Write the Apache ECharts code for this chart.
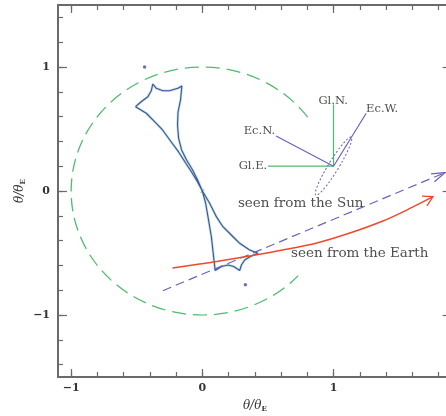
<!DOCTYPE html>
<html>
<head>
<meta charset="utf-8">
<script src="https://cdn.jsdelivr.net/npm/echarts@6/dist/echarts.min.js"></script>
<style>
  html, body { margin: 0; padding: 0; background: #fff; overflow: hidden; }
  /* the plot frame runs slightly past the right edge of the window */
  #chart { width: 456px; height: 416px; }
</style>
</head>
<body>
<div id="chart"></div>
<script>
// Axis extents and ticks (units of theta / theta_E)
const X_RANGE = [-1.1, 1.9];
const Y_RANGE = [-1.5, 1.5];
const X_MAJOR = [-1, 0, 1];
const Y_MAJOR = [-1, 0, 1];
const X_MINOR = [-1, -0.8, -0.6, -0.4, -0.2, 0, 0.2, 0.4, 0.6, 0.8, 1, 1.2, 1.4, 1.6, 1.8];
const Y_MINOR = [-1.4, -1.2, -1, -0.8, -0.6, -0.4, -0.2, 0, 0.2, 0.4, 0.6, 0.8, 1, 1.2, 1.4];

// Einstein ring: [cx, cy, radius, startAngleDeg, endAngleDeg] (drawn counter-clockwise)
const EINSTEIN_RING = [[0, 0, 1, 36.5, 317]];

// Caustic curve (closed loop through the six cusps)
const CAUSTIC = [
  [-0.509, 0.680], [-0.466, 0.720], [-0.415, 0.760], [-0.389, 0.809], [-0.377, 0.863],
  [-0.351, 0.828], [-0.301, 0.809], [-0.250, 0.809], [-0.186, 0.828], [-0.156, 0.847],
  [-0.166, 0.734], [-0.185, 0.637], [-0.189, 0.532], [-0.181, 0.427], [-0.158, 0.331],
  [-0.120, 0.250], [-0.074, 0.169], [-0.036, 0.089], [0, 0],
  [0.025, -0.097], [0.043, -0.207], [0.069, -0.369], [0.086, -0.530], [0.098, -0.641],
  [0.147, -0.609], [0.195, -0.597], [0.239, -0.609], [0.285, -0.641],
  [0.298, -0.597], [0.323, -0.556], [0.374, -0.524], [0.424, -0.502],
  [0.361, -0.476], [0.285, -0.422], [0.234, -0.369], [0.157, -0.288], [0.107, -0.207],
  [0.056, -0.099], [0, 0],
  [-0.036, 0.073], [-0.082, 0.153], [-0.127, 0.226], [-0.181, 0.315], [-0.242, 0.403],
  [-0.303, 0.492], [-0.351, 0.546], [-0.427, 0.627], [-0.509, 0.680]
];
// Isolated planetary caustic specks
const CAUSTIC_SPECKS = [[-0.44, 1.0], [0.328, -0.756]];
// Lens position
const LENS = [[0, 0]];

// Source trajectories
const TRACK_SUN = [[-0.301, -0.804], [1.850, 0.148]];
const TRACK_EARTH = [
  [-0.227, -0.621], [-0.021, -0.589], [0.109, -0.569], [0.361, -0.524], [0.613, -0.476],
  [0.873, -0.419], [1.124, -0.339], [1.376, -0.242], [1.582, -0.141], [1.758, -0.046]
];

// Orientation compass and parallax ellipse
const COMPASS_ORIGIN = [1.0, 0.2];
const GAL_NORTH = [1.0, 0.7];
const GAL_EAST = [0.5, 0.2];
const ECL_NORTH = [0.562, 0.444];
const ECL_WEST = [1.249, 0.627];
// [cx, cy, semiMajor, semiMinor, angleDeg]
const PARALLAX_ELLIPSE = [[1.0, 0.2, 0.27, 0.04, 60]];

// Text annotations: [x, y, text]
const COMPASS_LABELS = [
  [0.997, 0.726, 'Gl.N.'],
  [1.37, 0.661, 'Ec.W.'],
  [0.435, 0.484, 'Ec.N.'],
  [0.386, 0.2, 'Gl.E.']
];
const TRACK_LABELS = [
  [0.75, -0.097, 'seen from the Sun'],
  [1.2, -0.5, 'seen from the Earth']
];

const FRAME = '#6a6a6a';
const GREEN = '#4fbb6f';
const PURPLE = '#6c60c4';
const BLUE = '#41519f';
const RED = '#f2472b';
const SERIF = '"DejaVu Serif", "Liberation Serif", serif';

const minus = v => (v < 0 ? '\u2212' + Math.abs(v) : String(v));

const axisNameRich = {
  t: { fontFamily: SERIF, fontStyle: 'italic', fontSize: 12, color: '#333', lineHeight: 14 },
  s: { fontFamily: SERIF, fontSize: 7, fontWeight: 'bold', color: '#333', verticalAlign: 'bottom', padding: [5, 0, 0, 0] }
};

function xAxisPair(position, withLabels) {
  return [
    {
      type: 'value', position, min: X_RANGE[0], max: X_RANGE[1],
      axisLine: { show: true, onZero: false, lineStyle: { color: FRAME, width: 2 } },
      axisTick: { show: true, inside: true, length: 8, customValues: X_MAJOR, lineStyle: { color: FRAME, width: 1.2 } },
      axisLabel: withLabels ? {
        show: true, customValues: X_MAJOR, formatter: minus, margin: 6,
        fontFamily: SERIF, fontSize: 11, fontWeight: 'bold', color: '#333'
      } : { show: false },
      splitLine: { show: false },
      name: withLabels ? '{t|\u03b8/\u03b8}{s|E}' : '',
      nameLocation: 'middle', nameGap: 22, nameMoveOverlap: false,
      nameTextStyle: { rich: axisNameRich }
    },
    {
      type: 'value', position, min: X_RANGE[0], max: X_RANGE[1],
      axisLine: { show: false, onZero: false },
      axisTick: { show: true, inside: true, length: 5, customValues: X_MINOR, lineStyle: { color: FRAME, width: 1.2 } },
      axisLabel: { show: false }, splitLine: { show: false }
    }
  ];
}

function yAxisPair(position, withLabels) {
  return [
    {
      type: 'value', position, min: Y_RANGE[0], max: Y_RANGE[1],
      axisLine: { show: true, onZero: false, lineStyle: { color: FRAME, width: 2 } },
      axisTick: { show: true, inside: true, length: 9, customValues: Y_MAJOR, lineStyle: { color: FRAME, width: 1.2 } },
      axisLabel: withLabels ? {
        show: true, customValues: Y_MAJOR, formatter: minus, margin: 8,
        fontFamily: SERIF, fontSize: 11, fontWeight: 'bold', color: '#333'
      } : { show: false },
      splitLine: { show: false },
      name: withLabels ? '{t|\u03b8/\u03b8}{s|E}' : '',
      nameLocation: 'middle', nameGap: 31, nameRotate: 90, nameMoveOverlap: false,
      nameTextStyle: { rich: axisNameRich }
    },
    {
      type: 'value', position, min: Y_RANGE[0], max: Y_RANGE[1],
      axisLine: { show: false, onZero: false },
      axisTick: { show: true, inside: true, length: 5, customValues: Y_MINOR, lineStyle: { color: FRAME, width: 1.2 } },
      axisLabel: { show: false }, splitLine: { show: false }
    }
  ];
}

const segment = (a, b, color, width) => ({
  type: 'line', data: [a, b], symbol: 'none', silent: true,
  lineStyle: { color, width }, z: 3
});

const textSeries = (data, size) => ({
  type: 'scatter', data, symbolSize: 0, silent: true, z: 8,
  label: {
    show: true, position: 'inside',
    formatter: p => p.value[2],
    fontFamily: SERIF, fontSize: size, color: '#222'
  }
});

const chart = echarts.init(document.getElementById('chart'), null, { renderer: 'canvas' });

chart.setOption({
  animation: false,
  backgroundColor: '#ffffff',
  grid: { left: 58, top: 5, right: 4.4, bottom: 39, containLabel: false, outerBoundsMode: 'none' },
  xAxis: [...xAxisPair('bottom', true), ...xAxisPair('top', false)],
  yAxis: [...yAxisPair('left', true), ...yAxisPair('right', false)],
  series: [
    {
      // Einstein ring (dashed arc)
      type: 'custom', silent: true, z: 2,
      renderItem(params, api) {
        const c = api.coord([api.value(0), api.value(1)]);
        const s = api.size([api.value(2), api.value(2)]);
        return {
          type: 'arc',
          x: c[0], y: c[1], scaleY: s[1] / s[0],
          shape: {
            cx: 0, cy: 0, r: s[0],
            startAngle: -api.value(3) * Math.PI / 180,
            endAngle: -api.value(4) * Math.PI / 180,
            clockwise: false
          },
          style: { stroke: GREEN, fill: null, lineWidth: 1.3, lineDash: [14, 7] }
        };
      },
      data: EINSTEIN_RING
    },
    {
      // soft halo under the caustic
      type: 'line', data: CAUSTIC, symbol: 'none', silent: true, z: 3,
      lineStyle: { color: 'rgba(110,190,165,0.45)', width: 2.6 }
    },
    {
      type: 'line', data: CAUSTIC, symbol: 'none', silent: true, z: 4,
      lineStyle: { color: BLUE, width: 1.1 }
    },
    {
      type: 'scatter', data: CAUSTIC_SPECKS, symbol: 'circle', symbolSize: 3.5, silent: true, z: 4,
      itemStyle: { color: BLUE }
    },
    {
      type: 'scatter', data: LENS, silent: true, z: 5,
      symbol: 'path://M0,0 L10,10 M10,0 L0,10 L1,11 L11,1 L10,0 L0,10 Z', symbolSize: 4,
      itemStyle: { color: '#333' }
    },
    {
      type: 'line', data: TRACK_SUN, symbol: 'none', silent: true, z: 5,
      lineStyle: { color: PURPLE, width: 1.2, type: [9, 5] }
    },
    {
      type: 'line', data: TRACK_EARTH, symbol: 'none', smooth: 0.3, silent: true, z: 6,
      lineStyle: { color: RED, width: 1.4 }
    },
    segment(COMPASS_ORIGIN, GAL_NORTH, GREEN, 1.2),
    segment(COMPASS_ORIGIN, GAL_EAST, GREEN, 1.2),
    segment(COMPASS_ORIGIN, ECL_NORTH, PURPLE, 1.2),
    segment(COMPASS_ORIGIN, ECL_WEST, PURPLE, 1.2),
    {
      // parallax ellipse (dotted)
      type: 'custom', silent: true, z: 4,
      renderItem(params, api) {
        const cx = api.value(0), cy = api.value(1);
        const a = api.value(2), b = api.value(3), th = api.value(4) * Math.PI / 180;
        const c = api.coord([cx, cy]);
        const pa = api.coord([cx + a * Math.cos(th), cy + a * Math.sin(th)]);
        const pb = api.coord([cx - b * Math.sin(th), cy + b * Math.cos(th)]);
        const rx = Math.hypot(pa[0] - c[0], pa[1] - c[1]);
        const ry = Math.hypot(pb[0] - c[0], pb[1] - c[1]);
        const rot = Math.atan2(-(pa[1] - c[1]), pa[0] - c[0]);
        return {
          type: 'ellipse',
          x: c[0], y: c[1], rotation: rot,
          shape: { cx: 0, cy: 0, rx, ry },
          style: { stroke: PURPLE, fill: null, lineWidth: 1, lineDash: [2, 2] }
        };
      },
      data: PARALLAX_ELLIPSE
    },
    textSeries(COMPASS_LABELS, 11.5),
    textSeries(TRACK_LABELS, 13.5)
  ]
});

// Arrowheads at the ends of the two trajectories
function arrowHead(track, len, half, color) {
  const n = track.length;
  const tip = chart.convertToPixel({ xAxisIndex: 0, yAxisIndex: 0 }, track[n - 1]);
  const prev = chart.convertToPixel({ xAxisIndex: 0, yAxisIndex: 0 }, track[n - 2]);
  const ang = Math.atan2(prev[1] - tip[1], prev[0] - tip[0]);
  const h = half * Math.PI / 180;
  return {
    type: 'polyline', silent: true, z: 10,
    shape: {
      points: [
        [tip[0] + len * Math.cos(ang + h), tip[1] + len * Math.sin(ang + h)],
        tip,
        [tip[0] + len * Math.cos(ang - h), tip[1] + len * Math.sin(ang - h)]
      ]
    },
    style: { stroke: color, fill: null, lineWidth: 1.3 }
  };
}

chart.setOption({
  graphic: [
    arrowHead(TRACK_SUN, 14, 18, PURPLE),
    arrowHead(TRACK_EARTH, 11, 30, RED)
  ]
});
</script>
</body>
</html>
